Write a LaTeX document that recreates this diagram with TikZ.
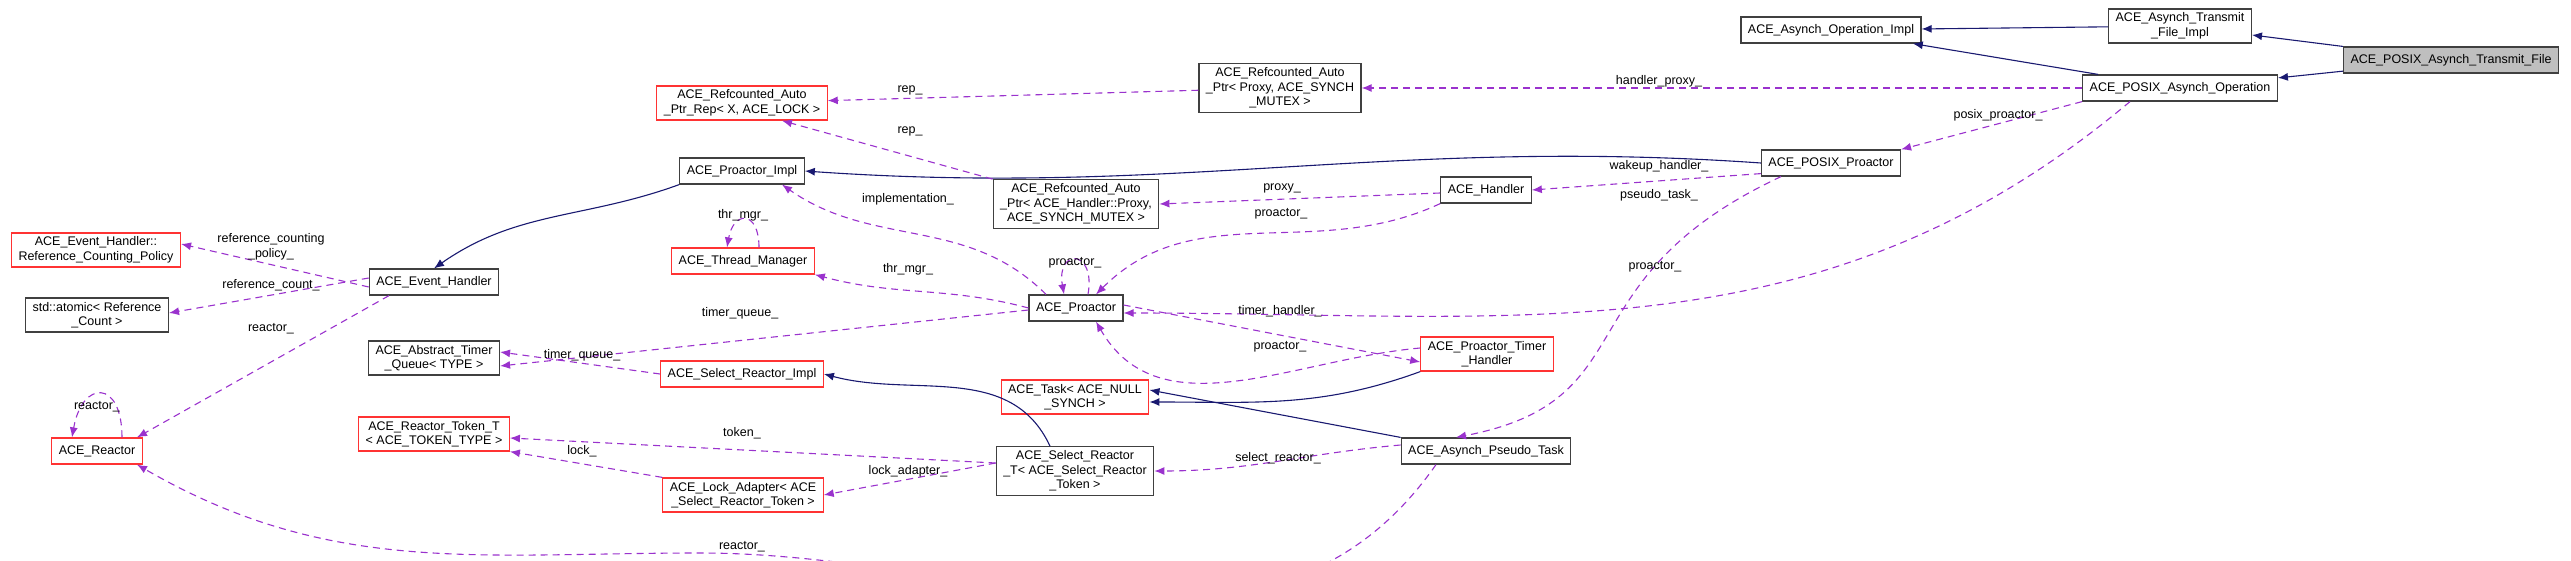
\documentclass[tikz,border=0pt]{standalone}
\usepackage{fontspec}
\setmainfont{Liberation Sans}
\usetikzlibrary{arrows.meta}
\definecolor{usecol}{HTML}{9A32CD}
\definecolor{inhcol}{HTML}{191970}
\begin{document}
\begin{tikzpicture}[x=1pt,y=-1pt,
  cls/.style={draw=black!75,line width=1.2pt,fill=white,align=center,inner xsep=7pt,inner ysep=4pt,
    font=\fontsize{12.5}{14.5}\selectfont,minimum height=26pt},
  red/.style={cls,draw=red!80},
  dep/.style={draw=usecol,dashed,dash pattern=on 7pt off 5pt,line width=1.1pt,-{Latex[length=10pt,width=8pt]}},
  inh/.style={draw=inhcol,line width=1.1pt,-{Latex[length=10pt,width=8pt]}},
  lbl/.style={font=\fontsize{12.5}{14.5}\selectfont,align=center,inner sep=1pt}]
\useasboundingbox (0,0) rectangle (2571,561);

\node[cls,fill=black!25] (ptf) at (2451,60) {ACE\_POSIX\_Asynch\_Transmit\_File};
\node[cls] (tfi) at (2180,26) {ACE\_Asynch\_Transmit\\\_File\_Impl};
\node[cls] (aoi) at (1831,30) {ACE\_Asynch\_Operation\_Impl};
\node[cls] (pao) at (2180,88) {ACE\_POSIX\_Asynch\_Operation};
\node[cls] (ppr) at (1831,163) {ACE\_POSIX\_Proactor};
\node[cls] (hnd) at (1486,190) {ACE\_Handler};
\node[cls] (apx) at (1280,88) {ACE\_Refcounted\_Auto\\\_Ptr< Proxy, ACE\_SYNCH\\\_MUTEX >};
\node[red] (rep) at (742,103) {ACE\_Refcounted\_Auto\\\_Ptr\_Rep< X, ACE\_LOCK >};
\node[cls] (pim) at (742,171) {ACE\_Proactor\_Impl};
\node[cls] (ahp) at (1076,204) {ACE\_Refcounted\_Auto\\\_Ptr< ACE\_Handler::Proxy,\\ACE\_SYNCH\_MUTEX >};
\node[red] (thm) at (743,261) {ACE\_Thread\_Manager};
\node[cls] (pro) at (1076,308) {ACE\_Proactor};
\node[red] (pth) at (1487,354) {ACE\_Proactor\_Timer\\\_Handler};
\node[red] (tsk) at (1075,397) {ACE\_Task< ACE\_NULL\\\_SYNCH >};
\node[cls] (apt) at (1486,451) {ACE\_Asynch\_Pseudo\_Task};
\node[cls] (srt) at (1075,471) {ACE\_Select\_Reactor\\\_T< ACE\_Select\_Reactor\\\_Token >};
\node[red] (sri) at (742,374) {ACE\_Select\_Reactor\_Impl};
\node[red] (lad) at (743,495) {ACE\_Lock\_Adapter< ACE\\\_Select\_Reactor\_Token >};
\node[cls] (evh) at (434,282) {ACE\_Event\_Handler};
\node[cls] (atq) at (434,358) {ACE\_Abstract\_Timer\\\_Queue< TYPE >};
\node[red] (rtk) at (434,434) {ACE\_Reactor\_Token\_T\\< ACE\_TOKEN\_TYPE >};
\node[red] (rcp) at (96,250) {ACE\_Event\_Handler::\\Reference\_Counting\_Policy};
\node[cls] (atm) at (97,315) {std::atomic< Reference\\\_Count >};
\node[red] (rea) at (97,451) {ACE\_Reactor};
\coordinate (rbot) at (700,553);

% inheritance
\draw[inh] (ptf) -- (tfi);
\draw[inh] (ptf) -- (pao);
\draw[inh] (tfi) -- (aoi);
\draw[inh] (pao) -- (aoi);
\draw[inh] (ppr.west) to[out=176,in=-4] (pim.east);
\draw[inh] (pim.south west) to[out=200,in=35] (evh.north);
\draw[inh] ([xshift=-25pt]srt.north) to[out=115,in=-15] (sri.east);
\draw[inh] (pth.south west) to[out=200,in=0] ([yshift=-5pt]tsk.east);
\draw[inh] (apt.north west) -- ([yshift=7pt]tsk.east);

% members
\draw[dep] (apx) -- (rep);
\draw[dep] (ahp.north west) -- ([xshift=40pt]rep.south);
\draw[dep] (pao) -- (apx);
\draw[dep] (pao.south west) -- (ppr.north east);
\draw[dep] ([xshift=-50pt]pao.south) to[out=220,in=0] ([yshift=-5pt]pro.east);
\draw[dep] ([yshift=3pt]ppr.south west) -- (hnd.east);
\draw[dep] ([xshift=-50pt]ppr.south) .. controls (1560,280) and (1650,400) .. ([xshift=-30pt]apt.north);
\draw[dep] ([yshift=-3pt]hnd.west) -- (ahp.east);
\draw[dep] (hnd.south west) to[out=205,in=45] ([xshift=20pt]pro.north);
\draw[dep] ([xshift=-30pt]pro.north) to[out=135,in=-35] ([xshift=40pt]pim.south);
\draw[dep] ([xshift=12pt]pro.north) to[out=80,in=100,looseness=5] ([xshift=-12pt]pro.north);
\draw[dep] (pro.west) to[out=165,in=-15] (thm.south east);
\draw[dep] ([xshift=16pt]thm.north) to[out=90,in=80,looseness=3] ([xshift=-16pt]thm.north);
\draw[dep] ([yshift=-2pt]pro.west) -- ([yshift=-8pt]atq.east);
\draw[dep] ([yshift=3pt]pro.east) -- ([yshift=-8pt]pth.west);
\draw[dep] ([yshift=6pt]pth.west) to[out=185,in=-60] ([xshift=20pt]pro.south);
\draw[dep] ([yshift=-5pt]evh.west) -- ([yshift=6pt]rcp.east);
\draw[dep] ([yshift=4pt]evh.west) -- ([yshift=2pt]atm.east);
\draw[dep] ([xshift=-45pt]evh.south) -- ([xshift=40pt]rea.north);
\draw[dep] ([xshift=25pt]rea.north) to[out=90,in=80,looseness=3] ([xshift=-25pt]rea.north);
\draw[dep] (sri.west) -- ([yshift=6pt]atq.east);
\draw[dep] ([yshift=8pt]srt.west) -- ([yshift=-4pt]rtk.east);
\draw[dep] (lad.north west) -- (rtk.south east);
\draw[dep] ([yshift=8pt]srt.west) ++(0,0) -- (lad.east);
\draw[dep] ([yshift=6pt]apt.west) to[out=185,in=0] (srt.east);
\draw[dep] ([xshift=-50pt]apt.south) to[out=235,in=0] (rbot) to[out=180,in=-30] ([xshift=40pt]rea.south);

% labels
\node[lbl] (l1) at (1659,81) {handler\_proxy\_};
\node[lbl] (l2) at (910,90) {rep\_};
\node[lbl] (l3) at (910,131) {rep\_};
\node[lbl] (l4) at (1998,115) {posix\_proactor\_};
\node[lbl] (l5) at (1659,166) {wakeup\_handler\_};
\node[lbl] (l6) at (1659,195) {pseudo\_task\_};
\node[lbl] (l7) at (1282,188) {proxy\_};
\node[lbl] (l8) at (1281,214) {proactor\_};
\node[lbl] (l9) at (908,199) {implementation\_};
\node[lbl] (l10) at (743,215) {thr\_mgr\_};
\node[lbl] (l11) at (908,269) {thr\_mgr\_};
\node[lbl] (l12) at (1075,263) {proactor\_};
\node[lbl] (l13) at (1655,267) {proactor\_};
\node[lbl] (l14) at (740,313) {timer\_queue\_};
\node[lbl] (l15) at (1280,311) {timer\_handler\_};
\node[lbl] (l16) at (1280,347) {proactor\_};
\node[lbl] (l17) at (271,247) {reference\_counting\\\_policy\_};
\node[lbl] (l18) at (271,285) {reference\_count\_};
\node[lbl] (l19) at (271,329) {reactor\_};
\node[lbl] (l20) at (97,407) {reactor\_};
\node[lbl] (l21) at (582,355) {timer\_queue\_};
\node[lbl] (l22) at (742,433) {token\_};
\node[lbl] (l23) at (582,451) {lock\_};
\node[lbl] (l24) at (908,471) {lock\_adapter\_};
\node[lbl] (l25) at (1278,458) {select\_reactor\_};
\node[lbl] (l26) at (742,547) {reactor\_};
\end{tikzpicture}
\end{document}
